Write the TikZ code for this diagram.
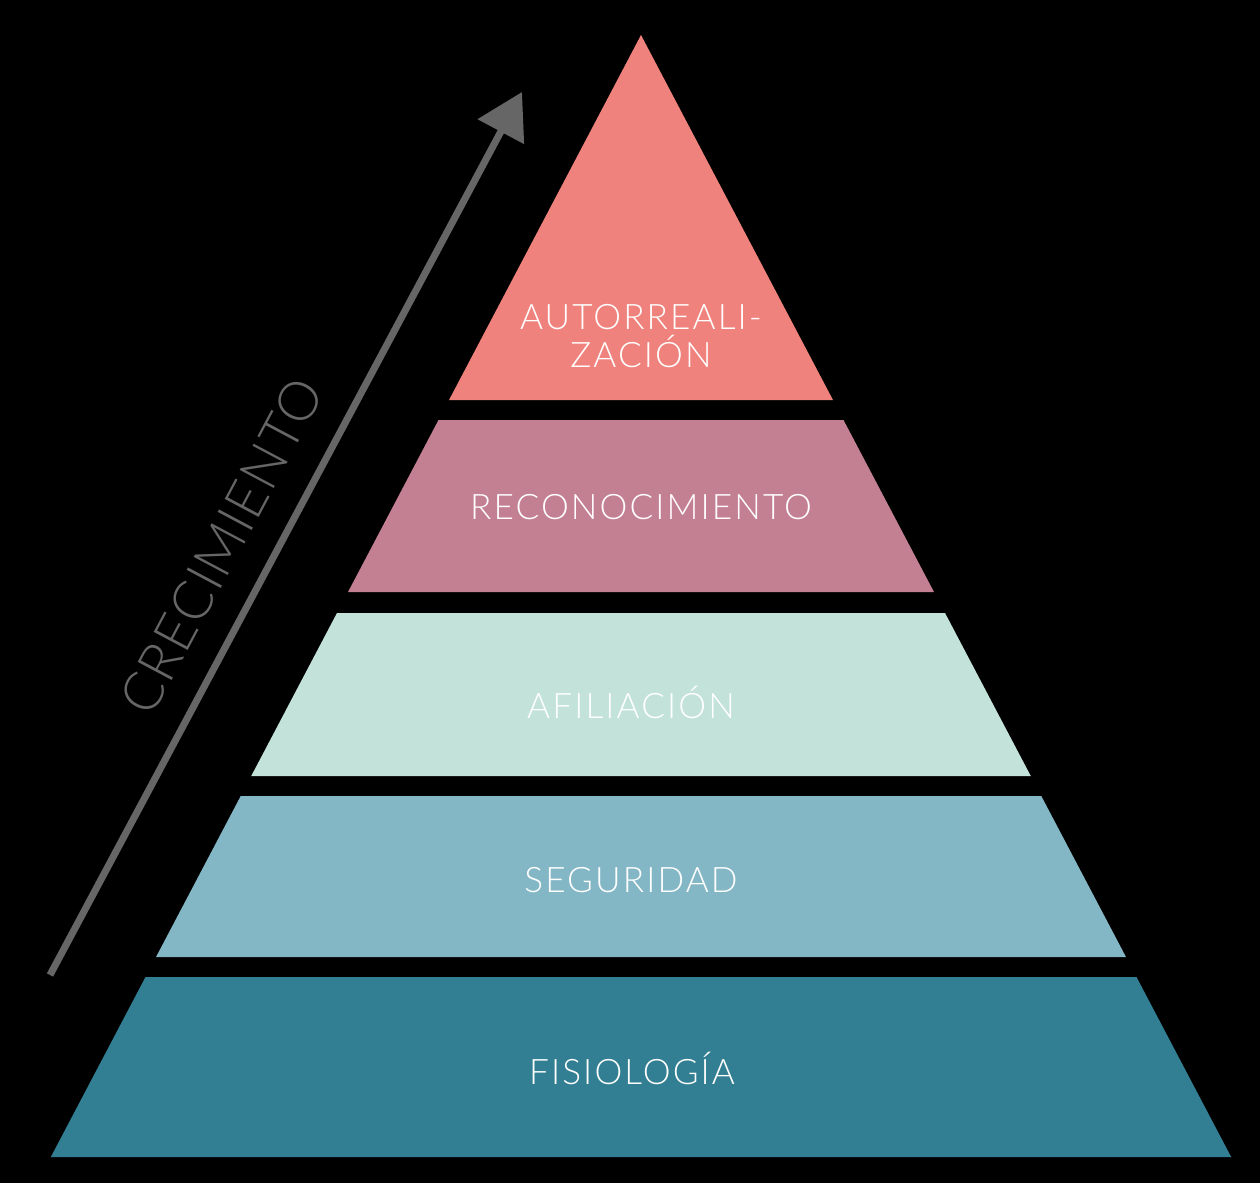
\documentclass[tikz,border=0pt]{standalone}
\usepackage{fontspec}
\setmainfont{Lato}[UprightFont={* Light}]
\usepackage{tikz}
\usetikzlibrary{arrows.meta}

\definecolor{topred}{HTML}{EF827C}
\definecolor{midrose}{HTML}{C48093}
\definecolor{paleteal}{HTML}{C2E2DA}
\definecolor{skyteal}{HTML}{84B7C6}
\definecolor{deepteal}{HTML}{327E92}
\definecolor{arrowgray}{HTML}{666666}

\tikzset{
    level/.style={text=white, font=\fontsize{20}{24}\selectfont\addfontfeature{LetterSpace=6}, align=center},
    growth/.style={text=arrowgray, font=\fontsize{31}{36}\selectfont\addfontfeature{LetterSpace=2}}
}

\begin{document}
\begin{tikzpicture}[x=0.02cm, y=-0.02cm]
    % background
    \fill[black] (0,0) rectangle (1260,1183);
    \useasboundingbox (0,0) rectangle (1260,1183);

    % pyramid bands: top y / bottom y / colour
    \foreach \top/\bot/\co in {
        35/400/topred,
        420/592/midrose,
        613/776/paleteal,
        796/957/skyteal,
        977/1157/deepteal}
    {
        \fill[\co] ({641-0.526*(\top-35)},\top) -- ({641+0.526*(\top-35)},\top)
            -- ({641+0.526*(\bot-35)},\bot) -- ({641-0.526*(\bot-35)},\bot) -- cycle;
    }

    % labels
    \node[level] (auto) at (641,336) {AUTORREALI-\\[-2pt]ZACIÓN};
    \node[level] (reco) at (641,507) {RECONOCIMIENTO};
    \node[level] (afil) at (631,702) {AFILIACIÓN};
    \node[level] (segu) at (631,880) {SEGURIDAD};
    \node[level] (fisi) at (632,1068) {FISIOLOGÍA};

    % growth arrow
    \coordinate (tail) at (50,975);
    \coordinate (tip) at (522,92);
    \draw[arrowgray, line width=4pt, -{Triangle[length=0.9cm, width=1.02cm]}] (tail) -- (tip);
    \node[growth, rotate=62] (crec) at (222,546) {CRECIMIENTO};
\end{tikzpicture}
\end{document}
